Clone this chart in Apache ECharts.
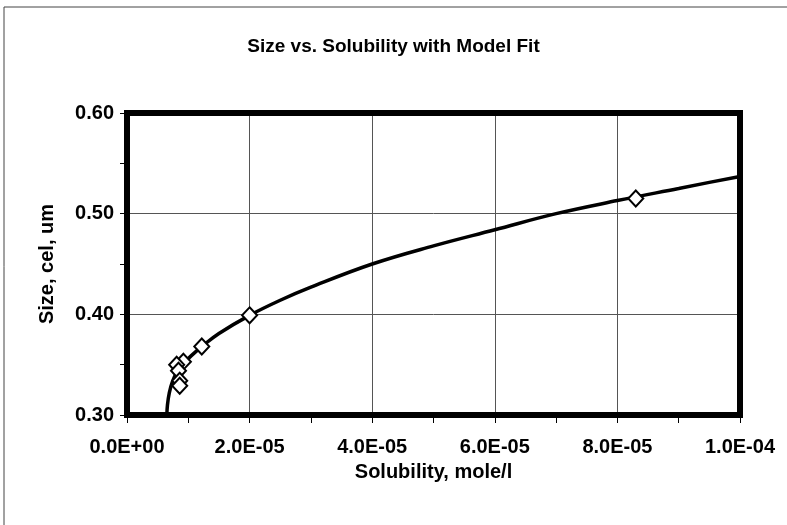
<!DOCTYPE html>
<html>
<head>
<meta charset="utf-8">
<script src="https://cdn.jsdelivr.net/npm/echarts@6/dist/echarts.min.js"></script>
<style>
html,body{margin:0;padding:0;background:#fff;}
#c{width:787px;height:525px;}
</style>
</head>
<body>
<div id="c"></div>
<script>
// Observed data (solubility mole/l, size um)
const obsX = [8.3e-5, 2.0e-5, 1.22e-5, 9.2e-6, 8.1e-6, 8.4e-6, 8.6e-6, 8.6e-6];
const obsY = [0.515, 0.399, 0.368, 0.353, 0.350, 0.344, 0.334, 0.329];
// Model fit curve
const fitX = [6.5e-6, 6.6e-6, 6.9e-6, 7.4e-6, 8.2e-6, 9.2e-6, 1.05e-5, 1.22e-5, 1.5e-5, 2.0e-5, 2.5e-5, 3.0e-5, 4.0e-5, 5.0e-5, 6.0e-5, 7.0e-5, 8.0e-5, 9.0e-5, 1.0e-4, 1.012e-4];
const fitY = [0.300, 0.310, 0.322, 0.333, 0.343, 0.351, 0.359, 0.368, 0.381, 0.399, 0.414, 0.427, 0.450, 0.468, 0.484, 0.500, 0.513, 0.525, 0.537, 0.538];
const xTicks = ['0.0E+00', '2.0E-05', '4.0E-05', '6.0E-05', '8.0E-05', '1.0E-04'];
const yTicks = ['0.30', '0.40', '0.50', '0.60'];

const F = 'Liberation Sans, Arial, sans-serif';
const border = {show: true, onZero: false, lineStyle: {color: '#000', width: 6, cap: 'square'}};
const chart = echarts.init(document.getElementById('c'), null, {renderer: 'canvas'});
chart.setOption({
  animation: false,
  backgroundColor: '#fff',
  graphic: [{
    type: 'rect', shape: {x: 4, y: 7, width: 900, height: 700},
    style: {fill: 'none', stroke: '#444', lineWidth: 1}, z: 0
  }],
  title: {
    text: 'Size vs. Solubility with Model Fit',
    left: 'center', top: 32,
    textStyle: {fontFamily: F, fontWeight: 'bold', fontSize: 19, color: '#000'}
  },
  grid: {left: 127, right: 47, top: 113, bottom: 110, show: false},
  xAxis: [{
    type: 'value', min: 0, max: 1e-4, interval: 2e-5, position: 'bottom',
    name: 'Solubility, mole/l', nameLocation: 'middle', nameGap: 47,
    nameTextStyle: {fontFamily: F, fontWeight: 'bold', fontSize: 20, color: '#000'},
    axisLine: border,
    axisTick: {show: true, length: 8, lineStyle: {color: '#000', width: 1}},
    minorTick: {show: true, splitNumber: 2, length: 8, lineStyle: {color: '#000', width: 1}},
    splitLine: {show: true, lineStyle: {color: '#555', width: 1}},
    axisLabel: {
      margin: 22, fontFamily: F, fontWeight: 'bold', fontSize: 20, color: '#000',
      formatter: function (v) { return xTicks[Math.round(v / 2e-5)]; }
    },
    z: 3
  }, {
    type: 'value', min: 0, max: 1e-4, interval: 2e-5, position: 'top',
    axisLine: border, axisTick: {show: false}, axisLabel: {show: false},
    splitLine: {show: false}, z: 3
  }],
  yAxis: [{
    type: 'value', min: 0.3, max: 0.6, interval: 0.1, position: 'left',
    name: 'Size, cel, um', nameLocation: 'middle', nameGap: 70,
    nameTextStyle: {fontFamily: F, fontWeight: 'bold', fontSize: 20, color: '#000'},
    axisLine: border,
    axisTick: {show: true, length: 7, lineStyle: {color: '#000', width: 1}},
    minorTick: {show: true, splitNumber: 2, length: 7, lineStyle: {color: '#000', width: 1}},
    splitLine: {show: true, lineStyle: {color: '#555', width: 1}},
    axisLabel: {
      margin: 13, fontFamily: F, fontWeight: 'bold', fontSize: 20, color: '#000',
      formatter: function (v) { return yTicks[Math.round((v - 0.3) / 0.1)]; }
    },
    z: 3
  }, {
    type: 'value', min: 0.3, max: 0.6, interval: 0.1, position: 'right',
    axisLine: border, axisTick: {show: false}, axisLabel: {show: false},
    splitLine: {show: false}, z: 3
  }],
  series: [{
    type: 'line', name: 'fit', clip: false, z: 8,
    data: fitX.map((x, i) => [x, fitY[i]]),
    smooth: 0.4, showSymbol: false,
    lineStyle: {color: '#000', width: 3.5}
  }, {
    type: 'scatter', name: 'data', z: 9, clip: false,
    data: obsX.map((x, i) => [x, obsY[i]]),
    symbol: 'diamond', symbolSize: [15, 16],
    itemStyle: {color: '#fff', opacity: 1, borderColor: '#000', borderWidth: 2}
  }]
});
</script>
</body>
</html>
